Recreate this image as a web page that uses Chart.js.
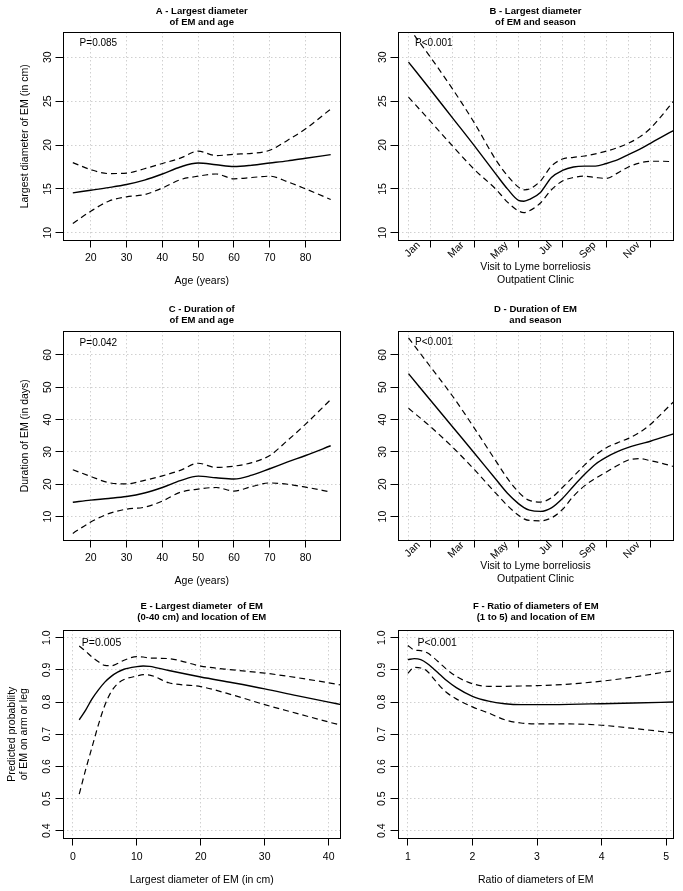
<!DOCTYPE html>
<html><head><meta charset="utf-8">
<script src="https://cdn.jsdelivr.net/npm/chart.js@4/dist/chart.umd.min.js"></script>
<style>
html,body{margin:0;padding:0;background:#fff;}
body{width:683px;height:891px;position:relative;overflow:hidden;}
canvas{position:absolute;}
</style></head><body>
<canvas id="cA"></canvas><canvas id="cB"></canvas>
<canvas id="cC"></canvas><canvas id="cD"></canvas>
<canvas id="cE"></canvas><canvas id="cF"></canvas>
<script>
// ================= DATA =================
// Age panels (A, C)
const ageX = [15,20,25,30,35,40,45,50,55,60,65,70,75,80,87];
const ageTicks = [20,30,40,50,60,70,80];

const diamAgeFit   = [14.55,14.85,15.15,15.5,16.0,16.7,17.5,17.95,17.75,17.55,17.7,17.95,18.2,18.5,18.9];
const diamAgeUpper = [18.0,17.2,16.75,16.8,17.3,17.9,18.5,19.3,18.8,18.95,19.05,19.4,20.55,21.85,24.1];
const diamAgeLower = [11.05,12.45,13.6,14.1,14.35,15.1,16.05,16.45,16.7,16.15,16.3,16.45,15.8,15.0,13.8];
const diamTicks = [10,15,20,25,30];

const durAgeFit   = [14.45,15.1,15.6,16.2,17.3,19.0,21.1,22.5,22.0,21.6,22.8,24.8,26.9,28.9,31.9];
const durAgeUpper = [24.5,22.4,20.5,20.1,21.2,22.6,24.3,26.5,25.2,25.6,26.7,28.9,33.6,38.6,46.2];
const durAgeLower = [4.8,8.3,10.9,12.3,12.9,14.8,17.5,18.5,19.0,17.9,19.3,20.4,20.0,19.1,17.6];
const durTicks = [10,20,30,40,50,60];

// Season panels (B, D): x in months (1 = Jan)
const monthX = [1,2,3,4,5,5.5,6,6.25,6.5,7,7.5,8,8.5,9,9.5,10,10.5,11,11.5,12,12.5,13.05];
const monthTicks = [1,2,3,4,5,6,7,8,9,10,11,12];
const monthLabels = ['Jan','','Mar','','May','','Jul','','Sep','','Nov',''];

const diamSeasonFit   = [29.45,26.3,23.1,19.9,16.6,15.0,13.7,13.6,13.8,14.6,16.3,17.1,17.5,17.6,17.6,17.9,18.3,18.9,19.5,20.2,20.9,21.65];
const diamSeasonUpper = [33.4,30.0,26.4,22.5,18.2,16.5,15.2,14.9,15.0,15.9,17.6,18.4,18.6,18.75,19.0,19.3,19.7,20.2,20.9,21.9,23.3,25.0];
const diamSeasonLower = [25.45,22.7,19.9,17.2,14.9,13.5,12.5,12.3,12.5,13.4,14.9,15.9,16.3,16.45,16.3,16.2,16.8,17.5,17.95,18.15,18.15,18.1];

const durSeasonFit   = [54.2,46.0,37.8,29.6,21.3,17.2,14.0,12.8,12.0,11.6,12.7,15.6,19.4,23.0,26.2,28.4,30.1,31.4,32.4,33.3,34.4,35.6];
const durSeasonUpper = [65.3,56.3,47.3,37.3,26.9,21.8,17.6,16.0,15.0,14.5,15.8,19.0,22.4,25.9,29.0,31.3,32.8,34.2,36.0,38.5,41.8,45.5];
const durSeasonLower = [43.5,37.8,31.5,24.5,17.0,13.4,10.4,9.3,8.8,8.7,9.6,12.2,16.3,19.5,21.8,23.8,25.8,27.5,27.9,27.3,26.5,25.5];

// Location panels (E, F)
const probTicks = [0.4,0.5,0.6,0.7,0.8,0.9,1.0];

const diamX = [1,2,3,4,5,6,7,8,10,11,12,15,20,25,30,35,40,41.94];
const diamTicksX = [0,10,20,30,40];
const locDiamFit   = [0.745,0.775,0.81,0.838,0.862,0.88,0.893,0.902,0.91,0.912,0.911,0.898,0.878,0.86,0.841,0.82,0.8,0.792];
const locDiamUpper = [0.974,0.958,0.94,0.925,0.914,0.913,0.92,0.93,0.941,0.94,0.937,0.935,0.912,0.9,0.89,0.876,0.86,0.853];
const locDiamLower = [0.514,0.59,0.66,0.73,0.79,0.832,0.857,0.87,0.881,0.885,0.884,0.86,0.848,0.822,0.792,0.765,0.738,0.728];

const ratioX = [1,1.1,1.2,1.3,1.4,1.5,1.6,1.75,2,2.25,2.5,2.75,3,3.5,4,4.5,5.12];
const ratioTicks = [1,2,3,4,5];
const locRatioFit   = [0.932,0.935,0.932,0.92,0.903,0.885,0.867,0.845,0.818,0.803,0.795,0.792,0.792,0.793,0.795,0.797,0.8];
const locRatioUpper = [0.976,0.962,0.96,0.953,0.938,0.92,0.902,0.88,0.857,0.849,0.849,0.85,0.851,0.856,0.865,0.878,0.898];
const locRatioLower = [0.889,0.908,0.906,0.896,0.873,0.849,0.83,0.81,0.785,0.766,0.745,0.735,0.732,0.732,0.728,0.718,0.704];

// ================= STYLE / LAYOUT =================
Chart.defaults.font.family = '"Liberation Sans", Arial, Helvetica, sans-serif';
Chart.defaults.color = '#000';
const FONT_AX = {size: 10.5, lineHeight: '12.6px'};
const FONT_TITLE = {size: 9.5, weight: 'bold', lineHeight: '11px'};
const TITLE_LH = 11, AX_LH = 12.6, TICK_LEN = 7;
const GRID_COLOR = '#d0d0d0';
const GRID_DASH = [1.5, 2.5];

function pts(xs, ys) { return xs.map((x, i) => ({x: x, y: ys[i]})); }

const boxPlugin = {
  id: 'plotBox',
  afterDraw(chart) {
    const a = chart.chartArea, ctx = chart.ctx;
    ctx.save();
    ctx.strokeStyle = '#000'; ctx.lineWidth = 1;
    ctx.strokeRect(Math.round(a.left) + 0.5, Math.round(a.top) + 0.5,
                   Math.round(a.right) - Math.round(a.left) - 1, Math.round(a.bottom) - Math.round(a.top) - 1);
    ctx.restore();
  }
};
const pLabelPlugin = {
  id: 'pLabel',
  afterDatasetsDraw(chart, args, o) {
    if (!o || !o.text) return;
    const ctx = chart.ctx;
    ctx.save();
    ctx.font = o.size + 'px "Liberation Sans", Arial, sans-serif';
    ctx.fillStyle = '#000'; ctx.textAlign = 'left'; ctx.textBaseline = 'middle';
    ctx.fillText(o.text, chart.scales.x.getPixelForValue(o.x), chart.scales.y.getPixelForValue(o.y));
    ctx.restore();
  }
};

function makePanel(id, p) {
  const cv = document.getElementById(id);
  const c = p.canvas;
  cv.width = c.w; cv.height = c.h;
  cv.style.left = c.x + 'px'; cv.style.top = c.y + 'px';
  cv.style.width = c.w + 'px'; cv.style.height = c.h + 'px';
  const bL = p.box.l - c.x, bR = p.box.r - c.x, bT = p.box.t - c.y, bB = p.box.b - c.y;
  const tPadTop = p.titleY - c.y - TITLE_LH / 2;
  const tPadBot = bT - tPadTop - 2 * TITLE_LH;
  const xLines = Array.isArray(p.xTitle) ? p.xTitle.length : 1;
  const xTitlePadBot = c.h - (p.xTitleY - c.y) - AX_LH / 2 - AX_LH * (xLines - 1);
  const rot = p.xRot || 0;
  const ds = (data, dashed) => ({
    data: data, borderColor: '#000', borderWidth: dashed ? 1.2 : 1.4,
    borderDash: dashed ? [6, 4] : [], pointRadius: 0, fill: false,
    cubicInterpolationMode: 'monotone', tension: 0.4
  });
  new Chart(cv, {
    type: 'line',
    data: {datasets: [
      ds(pts(p.xs, p.upper), true),
      ds(pts(p.xs, p.lower), true),
      ds(pts(p.xs, p.fit), false)
    ]},
    options: {
      responsive: false, animation: false, events: [],
      layout: {padding: {top: 0, left: 0, bottom: 0, right: c.w - bR}},
      plugins: {
        legend: {display: false}, tooltip: {enabled: false},
        title: {display: true, text: p.title, fullSize: false, font: FONT_TITLE, color: '#000',
                padding: {top: tPadTop, bottom: tPadBot}},
        pLabel: {text: p.pText, x: p.pX, y: p.pY, size: p.pSize}
      },
      scales: {
        x: {
          type: 'linear', position: 'bottom', min: p.xMin, max: p.xMax,
          afterFit: s => { s.height = c.h - bB; },
          afterBuildTicks: s => { s.ticks = p.xTicks.map(v => ({value: v})); },
          ticks: {autoSkip: false, minRotation: rot, maxRotation: rot, padding: p.xTickPad,
                  labelOffset: p.xLabelOffset || 0, font: FONT_AX, color: '#000',
                  callback: p.xFmt},
          grid: {display: true, color: GRID_COLOR, lineWidth: 1, drawTicks: true, tickLength: TICK_LEN,
                 tickWidth: 1, tickColor: p.xTickColor || '#000'},
          border: {display: false, dash: GRID_DASH},
          title: {display: true, text: p.xTitle, font: FONT_AX, color: '#000',
                  padding: {top: 0, bottom: xTitlePadBot}}
        },
        y: {
          type: 'linear', position: 'left', min: p.yMin, max: p.yMax,
          afterFit: s => { s.width = bL; },
          afterBuildTicks: s => { s.ticks = p.yTicks.map(v => ({value: v})); },
          ticks: {autoSkip: false, minRotation: 90, maxRotation: 90, crossAlign: 'center',
                  padding: p.yTickPad, font: FONT_AX, color: '#000', callback: p.yFmt},
          grid: {display: true, color: GRID_COLOR, lineWidth: 1, drawTicks: true, tickLength: TICK_LEN,
                 tickWidth: 1, tickColor: '#000'},
          border: {display: false, dash: GRID_DASH},
          title: {display: !!p.yTitle, text: p.yTitle || '', font: FONT_AX, color: '#000',
                  padding: {top: (p.yTitleX || 0) - c.x - AX_LH / 2, bottom: 0}}
        }
      }
    },
    plugins: [boxPlugin, pLabelPlugin]
  });
}

const intFmt = v => String(v);
const oneDec = v => v.toFixed(1);
const monthFmt = (v, i) => monthLabels[i];
const evenMonthTick = ctx => (ctx.tick && ctx.tick.value % 2 === 1) ? 'rgba(0,0,0,0)' : '#000';

const colL = {x: 0, w: 342}, colR = {x: 342, w: 341};
const rowTop = [0, 297, 594], rowH = 297;

makePanel('cA', {
  canvas: {x: colL.x, y: rowTop[0], w: colL.w, h: rowH},
  box: {l: 62.5, t: 32, r: 341, b: 240.5}, titleY: 11.5,
  title: ['A - Largest diameter', 'of EM and age'],
  xs: ageX, fit: diamAgeFit, upper: diamAgeUpper, lower: diamAgeLower,
  xMin: 12.12, xMax: 89.88, xTicks: ageTicks, xFmt: intFmt, xTickPad: 4.5,
  xTitle: 'Age (years)', xTitleY: 281,
  yMin: 9.12, yMax: 32.88, yTicks: diamTicks, yFmt: intFmt, yTickPad: 1.2,
  yTitle: 'Largest diameter of EM (in cm)', yTitleX: 25,
  pText: 'P=0.085', pX: 16.9, pY: 31.6, pSize: 10
});
makePanel('cB', {
  canvas: {x: colR.x, y: rowTop[0], w: colR.w, h: rowH},
  box: {l: 397.5, t: 32, r: 673.5, b: 240.5}, titleY: 11.5,
  title: ['B - Largest diameter', 'of EM and season'],
  xs: monthX, fit: diamSeasonFit, upper: diamSeasonUpper, lower: diamSeasonLower,
  xMin: 0.5, xMax: 13.05, xTicks: monthTicks, xFmt: monthFmt, xRot: 45, xTickPad: -8.5, xLabelOffset: 10,
  xTickColor: evenMonthTick,
  xTitle: ['Visit to Lyme borreliosis', 'Outpatient Clinic'], xTitleY: 267.5,
  yMin: 9.12, yMax: 32.88, yTicks: diamTicks, yFmt: intFmt, yTickPad: 1.2,
  pText: 'P<0.001', pX: 1.3, pY: 31.6, pSize: 10
});
makePanel('cC', {
  canvas: {x: colL.x, y: rowTop[1], w: colL.w, h: rowH},
  box: {l: 62.5, t: 331, r: 341, b: 540.5}, titleY: 309,
  title: ['C - Duration of', 'of EM and age'],
  xs: ageX, fit: durAgeFit, upper: durAgeUpper, lower: durAgeLower,
  xMin: 12.12, xMax: 89.88, xTicks: ageTicks, xFmt: intFmt, xTickPad: 4.5,
  xTitle: 'Age (years)', xTitleY: 581,
  yMin: 2.6, yMax: 67.4, yTicks: durTicks, yFmt: intFmt, yTickPad: 1.2,
  yTitle: 'Duration of EM (in days)', yTitleX: 25,
  pText: 'P=0.042', pX: 16.9, pY: 63.6, pSize: 10
});
makePanel('cD', {
  canvas: {x: colR.x, y: rowTop[1], w: colR.w, h: rowH},
  box: {l: 397.5, t: 331, r: 673.5, b: 540.5}, titleY: 309,
  title: ['D - Duration of EM', 'and season'],
  xs: monthX, fit: durSeasonFit, upper: durSeasonUpper, lower: durSeasonLower,
  xMin: 0.5, xMax: 13.05, xTicks: monthTicks, xFmt: monthFmt, xRot: 45, xTickPad: -8.5, xLabelOffset: 10,
  xTickColor: evenMonthTick,
  xTitle: ['Visit to Lyme borreliosis', 'Outpatient Clinic'], xTitleY: 566.5,
  yMin: 2.6, yMax: 67.4, yTicks: durTicks, yFmt: intFmt, yTickPad: 1.2,
  pText: 'P<0.001', pX: 1.3, pY: 63.8, pSize: 10
});
makePanel('cE', {
  canvas: {x: colL.x, y: rowTop[2], w: colL.w, h: rowH},
  box: {l: 62.5, t: 630, r: 341, b: 838.5}, titleY: 606.7,
  title: ['E - Largest diameter  of EM', '(0-40 cm) and location of EM'],
  xs: diamX, fit: locDiamFit, upper: locDiamUpper, lower: locDiamLower,
  xMin: -1.62, xMax: 41.93, xTicks: diamTicksX, xFmt: intFmt, xTickPad: 5,
  xTitle: 'Largest diameter of EM (in cm)', xTitleY: 880,
  yMin: 0.376, yMax: 1.024, yTicks: probTicks, yFmt: oneDec, yTickPad: 1.2,
  yTitle: ['Predicted probability', 'of EM on arm or leg'], yTitleX: 12,
  pText: 'P=0.005', pX: 1.4, pY: 0.984, pSize: 10.5
});
makePanel('cF', {
  canvas: {x: colR.x, y: rowTop[2], w: colR.w, h: rowH},
  box: {l: 397.5, t: 630, r: 674, b: 838.5}, titleY: 606.7,
  title: ['F - Ratio of diameters of EM', '(1 to 5) and location of EM'],
  xs: ratioX, fit: locRatioFit, upper: locRatioUpper, lower: locRatioLower,
  xMin: 0.84, xMax: 5.12, xTicks: ratioTicks, xFmt: intFmt, xTickPad: 5,
  xTitle: 'Ratio of diameters of EM', xTitleY: 880,
  yMin: 0.376, yMax: 1.024, yTicks: probTicks, yFmt: oneDec, yTickPad: 1.2,
  pText: 'P<0.001', pX: 1.15, pY: 0.984, pSize: 10.5
});
</script>
</body></html>
